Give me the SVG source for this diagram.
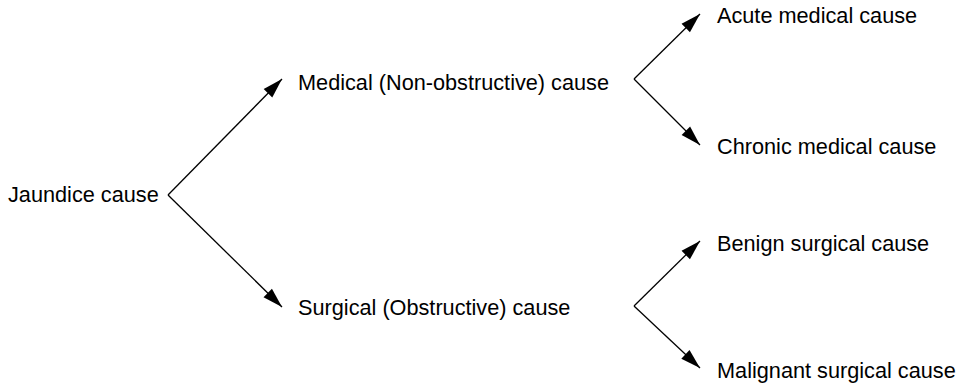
<svg xmlns="http://www.w3.org/2000/svg" width="970" height="383" viewBox="0 0 970 383">
  <style>
    .lbl { font-family: "Liberation Sans", Arial, sans-serif; font-size: 21.7px; fill: #000; }
    .edge { stroke: #000; stroke-width: 1.3; fill: none; marker-end: url(#head); }
  </style>
  <defs>
    <marker id="head" markerUnits="userSpaceOnUse" markerWidth="24" markerHeight="16" viewBox="-22 -8 24 16" refX="0" refY="0" orient="auto">
      <path d="M0,0 L-20,-6 L-20,6 Z" fill="#000"/>
    </marker>
  </defs>
  <rect width="970" height="383" fill="#fff"/>

  <g id="jaundice"><text class="lbl" x="8" y="202">Jaundice cause</text></g>
  <g id="medical"><text class="lbl" x="298" y="90">Medical (Non-obstructive) cause</text></g>
  <g id="surgical"><text class="lbl" x="298" y="315">Surgical (Obstructive) cause</text></g>
  <g id="acute"><text class="lbl" x="717" y="23">Acute medical cause</text></g>
  <g id="chronic"><text class="lbl" x="717" y="154">Chronic medical cause</text></g>
  <g id="benign"><text class="lbl" x="717" y="251">Benign surgical cause</text></g>
  <g id="malignant"><text class="lbl" x="717" y="378">Malignant surgical cause</text></g>

  <g id="connectors">
    <polyline class="edge" points="168,195 282,79"/>
    <polyline class="edge" points="168,195 282,307"/>
    <polyline class="edge" points="634,79 700,14"/>
    <polyline class="edge" points="634,79 700,145"/>
    <polyline class="edge" points="634,306 700,241"/>
    <polyline class="edge" points="634,306 700,368"/>
  </g>
</svg>
